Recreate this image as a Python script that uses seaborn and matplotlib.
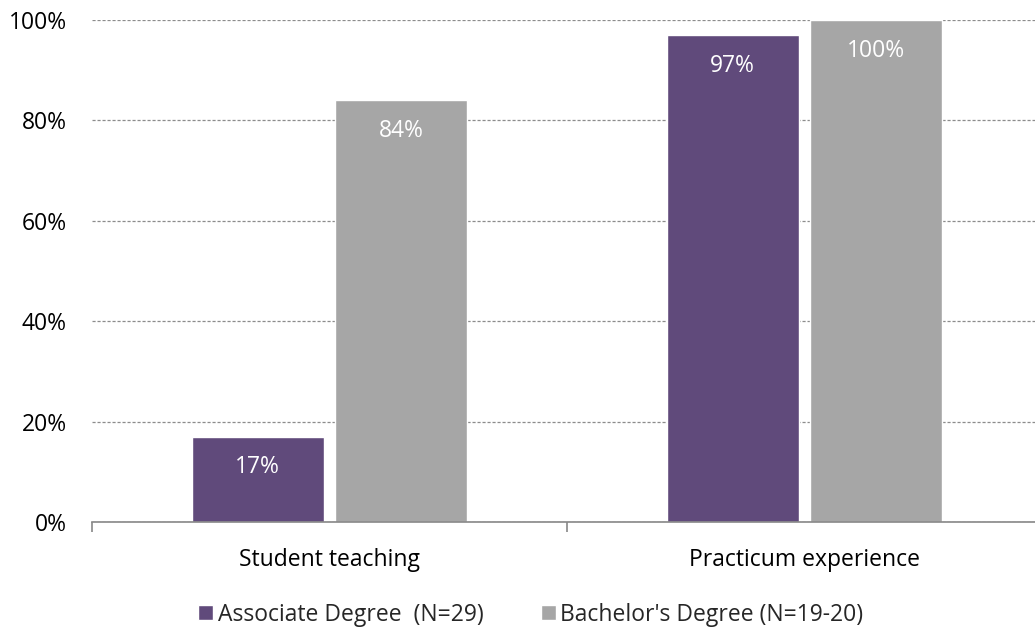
import matplotlib
matplotlib.use("Agg")
import matplotlib.pyplot as plt
import seaborn as sns
import pandas as pd
from matplotlib.ticker import PercentFormatter

categories = ["Student teaching", "Practicum experience"]
associate = [0.17, 0.97]
bachelor = [0.84, 1.00]
series_names = ["Associate Degree  (N=29)", "Bachelor's Degree (N=19-20)"]

df = pd.DataFrame({
    "category": categories * 2,
    "value": associate + bachelor,
    "group": [series_names[0]] * 2 + [series_names[1]] * 2,
})

sns.set_style("white")
plt.rcParams["font.family"] = ["Open Sans", "DejaVu Sans"]

fig = plt.figure(figsize=(10.35, 6.29), dpi=100)
ax = fig.add_axes([92 / 1035, 1 - 522 / 629, 950 / 1035, 502 / 629])

sns.barplot(data=df, x="category", y="value", hue="group",
            palette=["#604A7B", "#A6A6A6"], width=0.606, gap=0.083,
            saturation=1, ax=ax, legend=True)

ax.set_ylim(0, 1)
ax.set_xlim(-0.5, 1.5)
ax.set_yticks([0, 0.2, 0.4, 0.6, 0.8, 1.0])
ax.yaxis.set_major_formatter(PercentFormatter(1.0, decimals=0))
ax.yaxis.grid(True, linestyle=(0, (2.5, 1.5)), color="#8C8C8C", linewidth=0.9)
ax.set_axisbelow(True)
for s in ["left", "right", "top"]:
    ax.spines[s].set_visible(False)
ax.spines["bottom"].set_color("#878787")
ax.spines["bottom"].set_linewidth(1.2)

# major ticks sit between categories, labels go on minor ticks
ax.set_xticks([-0.5, 0.5, 1.5], minor=False)
ax.set_xticklabels([])
ax.set_xticks([0, 1], minor=True)
ax.set_xticklabels(categories, minor=True)
ax.tick_params(axis="x", which="major", length=7, color="#878787", width=1.2, direction="out", bottom=True)
ax.tick_params(axis="x", which="minor", length=0, pad=19, labelsize=16.5, labelcolor="black")
ax.tick_params(axis="y", length=0, pad=18, labelsize=16.5, labelcolor="black")
ax.set_xlabel("")
ax.set_ylabel("")

for cont in ax.containers:
    for bar, val in zip(cont, cont.datavalues):
        ax.annotate(f"{val * 100:.0f}%",
                    (bar.get_x() + bar.get_width() / 2, bar.get_height()),
                    xytext=(0, -22), textcoords="offset points",
                    ha="center", va="center", color="white", fontsize=16.5)

ax.legend(loc="center", bbox_to_anchor=(0.462, -0.185), ncol=2, frameon=False,
          fontsize=16.5, handlelength=0.65, handleheight=0.65, handletextpad=0.2,
          columnspacing=2.5, borderpad=0)

fig.savefig("out.png", dpi=100)
